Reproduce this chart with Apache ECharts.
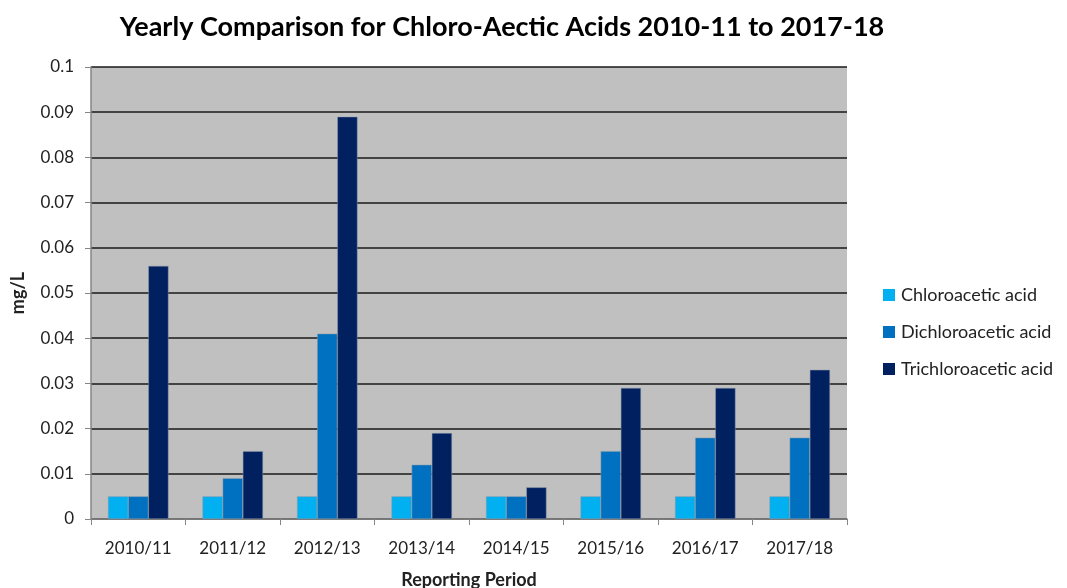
<!DOCTYPE html>
<html>
<head>
<meta charset="utf-8">
<script src="https://cdn.jsdelivr.net/npm/echarts@6/dist/echarts.min.js"></script>
<style>
  html, body { margin: 0; padding: 0; background: #fff; }
  #chart { width: 1067px; height: 588px; }
</style>
</head>
<body>
<div id="chart"></div>
<script>
const periods = ['2010/11', '2011/12', '2012/13', '2013/14', '2014/15', '2015/16', '2016/17', '2017/18'];
const chloroacetic = [0.005, 0.005, 0.005, 0.005, 0.005, 0.005, 0.005, 0.005];
const dichloroacetic = [0.005, 0.009, 0.041, 0.012, 0.005, 0.015, 0.018, 0.018];
const trichloroacetic = [0.056, 0.015, 0.089, 0.019, 0.007, 0.029, 0.029, 0.033];
const yTicks = [0, 0.01, 0.02, 0.03, 0.04, 0.05, 0.06, 0.07, 0.08, 0.09, 0.1];

const font = 'Lato, "Open Sans", sans-serif';
const chart = echarts.init(document.getElementById('chart'));

const barSeries = (name, data, color) => ({
  name: name,
  type: 'bar',
  data: data,
  barGap: '0%',
  barCategoryGap: '36%',
  itemStyle: { color: color, borderColor: '#8c9aa8', borderWidth: 0.5 },
  emphasis: { disabled: true }
});

chart.setOption({
  animation: false,
  title: {
    text: 'Yearly Comparison for Chloro-Aectic Acids 2010-11 to 2017-18',
    left: 497,
    top: 9,
    textAlign: 'center',
    textStyle: { fontFamily: font, fontSize: 27, fontWeight: 'bold', color: '#000' }
  },
  legend: {
    orient: 'vertical',
    left: 878,
    top: 281,
    itemWidth: 12,
    itemHeight: 12,
    itemGap: 19,
    icon: 'rect',
    itemStyle: { borderWidth: 0 },
    textStyle: { fontFamily: font, fontSize: 18, color: '#222', padding: [0, 0, 0, 1] },
    data: ['Chloroacetic acid', 'Dichloroacetic acid', 'Trichloroacetic acid']
  },
  grid: { left: 91, right: 220, top: 67, bottom: 69, outerBoundsMode: 'none' },
  xAxis: {
    type: 'category',
    data: periods,
    name: 'Reporting Period',
    nameLocation: 'middle',
    nameGap: 52,
    nameTextStyle: { fontFamily: font, fontSize: 18, fontWeight: 'bold', color: '#222' },
    axisLine: { lineStyle: { color: '#868686', width: 1.5 } },
    axisTick: { show: true, length: 6, lineStyle: { color: '#868686' } },
    axisLabel: { fontFamily: font, fontSize: 17, color: '#222', margin: 21 }
  },
  yAxis: {
    type: 'value',
    min: 0,
    max: 0.1,
    interval: 0.01,
    name: 'mg/L',
    nameLocation: 'middle',
    nameGap: 64,
    nameRotate: 90,
    nameTextStyle: { fontFamily: font, fontSize: 18, fontWeight: 'bold', color: '#222' },
    axisLine: { show: true, lineStyle: { color: '#868686', width: 1.5 } },
    axisTick: { show: true, length: 6, lineStyle: { color: '#868686' } },
    axisLabel: {
      fontFamily: font, fontSize: 17, color: '#222', margin: 17,
      formatter: v => {
        const t = yTicks.find(x => Math.abs(x - v) < 1e-9);
        return String(t !== undefined ? t : v);
      }
    },
    splitLine: { lineStyle: { color: '#1a1a1a', width: 1.5 } },
    splitArea: { show: true, areaStyle: { color: ['#c0c0c0', '#c0c0c0'] } }
  },
  series: [
    barSeries('Chloroacetic acid', chloroacetic, '#00b0f0'),
    barSeries('Dichloroacetic acid', dichloroacetic, '#0070c0'),
    barSeries('Trichloroacetic acid', trichloroacetic, '#002060')
  ]
});
</script>
</body>
</html>
